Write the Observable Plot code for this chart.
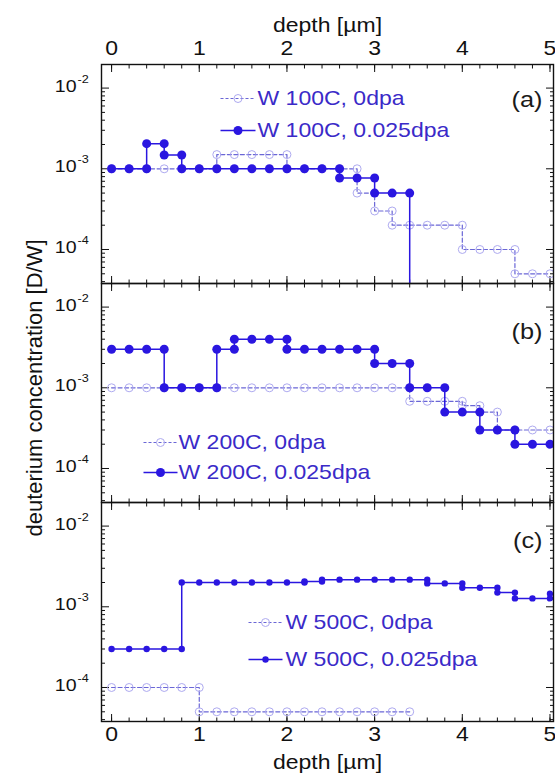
<!DOCTYPE html>
<html><head><meta charset="utf-8">
<script src="https://cdn.jsdelivr.net/npm/d3@7"></script>
<script src="https://cdn.jsdelivr.net/npm/@observablehq/plot@0.6"></script>
<style>
html,body{margin:0;padding:0;background:#fff;}
#chart{width:555px;height:775px;overflow:hidden;}
</style></head><body><div id="chart"></div>
<script>
// ---- tick labels / categories ----
const depthTicks = [0, 1, 2, 3, 4, 5];
const concTicks = [1e-4, 1e-3, 1e-2];
const concTickExp = ["-4", "-3", "-2"];
const panels = ["a", "b", "c"];
const panelLabels = ["(a)", "(b)", "(c)"];
const legendUn = ["W 100C, 0dpa", "W 200C, 0dpa", "W 500C, 0dpa"];
const legendIrr = ["W 100C, 0.025dpa", "W 200C, 0.025dpa", "W 500C, 0.025dpa"];
const xLabel = "depth [\u00b5m]";
const yLabel = "deuterium concentration [D/W]";

// ---- series (depth in µm, concentration in D/W) ----
const aUnDepth = [0,0.2,0.4,0.6,0.8,1.0,1.2, 1.2,1.4,1.6,1.8,2.0, 2.0,2.2,2.4,2.6,2.8, 2.8,3.0, 3.0,3.2, 3.2,3.4,3.6,3.8,4.0, 4.0,4.2,4.4,4.6, 4.6,4.8,5.0];
const aUnConc  = [1e-3,1e-3,1e-3,1e-3,1e-3,1e-3,1e-3, 1.5e-3,1.5e-3,1.5e-3,1.5e-3,1.5e-3, 1e-3,1e-3,1e-3,1e-3,1e-3, 5e-4,5e-4, 3e-4,3e-4, 2e-4,2e-4,2e-4,2e-4,2e-4, 1e-4,1e-4,1e-4,1e-4, 5e-5,5e-5,5e-5];
const aIrrDepth = [0,0.2,0.4, 0.4,0.6, 0.6,0.8, 0.8,1.0,1.2,1.4,1.6,1.8,2.0,2.2,2.4,2.6, 2.6,2.8,3.0, 3.0,3.2,3.4, 3.4];
const aIrrConc  = [1e-3,1e-3,1e-3, 2.05e-3,2.05e-3, 1.48e-3,1.48e-3, 1e-3,1e-3,1e-3,1e-3,1e-3,1e-3,1e-3,1e-3,1e-3,1e-3, 7.7e-4,7.7e-4,7.7e-4, 5e-4,5e-4,5e-4, 1e-6];

const bUnDepth = [0,0.2,0.4,0.6,0.8,1.0,1.2,1.4,1.6,1.8,2.0,2.2,2.4,2.6,2.8,3.0,3.2,3.4, 3.4,3.6,3.8,4.0, 4.0,4.2, 4.2,4.4, 4.4,4.6,4.8,5.0];
const bUnConc  = [1e-3,1e-3,1e-3,1e-3,1e-3,1e-3,1e-3,1e-3,1e-3,1e-3,1e-3,1e-3,1e-3,1e-3,1e-3,1e-3,1e-3,1e-3, 6.8e-4,6.8e-4,6.8e-4,6.8e-4, 6e-4,6e-4, 5e-4,5e-4, 3e-4,3e-4,3e-4,3e-4];
const bIrrDepth = [0,0.2,0.4,0.6, 0.6,0.8,1.0,1.2, 1.2,1.4, 1.4,1.6,1.8,2.0, 2.0,2.2,2.4,2.6,2.8,3.0, 3.0,3.2,3.4, 3.4,3.6,3.8, 3.8,4.0,4.2, 4.2,4.4,4.6, 4.6,4.8,5.0];
const bIrrConc  = [3e-3,3e-3,3e-3,3e-3, 1e-3,1e-3,1e-3,1e-3, 3e-3,3e-3, 4e-3,4e-3,4e-3,4e-3, 3e-3,3e-3,3e-3,3e-3,3e-3,3e-3, 2e-3,2e-3,2e-3, 1e-3,1e-3,1e-3, 5e-4,5e-4,5e-4, 3e-4,3e-4,3e-4, 2e-4,2e-4,2e-4];

const cUnDepth = [0,0.2,0.4,0.6,0.8,1.0, 1.0,1.2,1.4,1.6,1.8,2.0,2.2,2.4,2.6,2.8,3.0,3.2,3.4];
const cUnConc  = [1e-4,1e-4,1e-4,1e-4,1e-4,1e-4, 5e-5,5e-5,5e-5,5e-5,5e-5,5e-5,5e-5,5e-5,5e-5,5e-5,5e-5,5e-5,5e-5];
const cIrrDepth = [0,0.2,0.4,0.6,0.8, 0.8,1.0,1.2,1.4,1.6,1.8,2.0,2.2, 2.2,2.4, 2.4,2.6,2.8,3.0,3.2,3.4,3.6, 3.6,3.8,4.0, 4.0,4.2,4.4, 4.4,4.6, 4.6,4.8,5.0, 5.0];
const cIrrConc  = [3e-4,3e-4,3e-4,3e-4,3e-4, 2.0e-3,2.0e-3,2.0e-3,2.0e-3,2.0e-3,2.0e-3,2.0e-3,2.0e-3, 2.06e-3,2.06e-3, 2.17e-3,2.17e-3,2.17e-3,2.17e-3,2.17e-3,2.17e-3,2.17e-3, 1.95e-3,1.95e-3,1.95e-3, 1.72e-3,1.72e-3,1.72e-3, 1.5e-3,1.5e-3, 1.27e-3,1.27e-3,1.27e-3, 1.45e-3];

// ---- build tables ----
const rows = (panel, depth, conc) => depth.map((d, i) => ({panel, depth: d, conc: conc[i]}));
const unData = [...rows("a", aUnDepth, aUnConc), ...rows("b", bUnDepth, bUnConc), ...rows("c", cUnDepth, cUnConc)];
const irrData = [...rows("a", aIrrDepth, aIrrConc), ...rows("b", bIrrDepth, bIrrConc), ...rows("c", cIrrDepth, cIrrConc)];

// ---- styling / layout ----
const FONT = "'Liberation Sans', Arial, Helvetica, sans-serif";
const BLUE = "#2a16e0";
const DASH = "#6a66d6";
const OPEN = "#aeaaf0";
const LEGTXT = "#3a2ac8";
const STRETCH = 1.15;
const yDomain = [3.79e-5, 1.96e-2];
const xMinor = d3.range(0, 5.001, 0.2).map(v => +v.toFixed(1));
const yMinor = [];
for (const e of [-5, -4, -3, -2]) for (let k = 2; k <= 9; k++) { const v = k * 10 ** e; if (v > yDomain[0] && v < yDomain[1]) yMinor.push(v); }

// legend layout (pixels relative to each panel's top-left corner)
const legendLayout = {
  a: {x0: 119, x1: 154, tx: 156, y1: 34, y2: 66},
  b: {x0: 42,  x1: 76,  tx: 77,  y1: 159, y2: 189},
  c: {x0: 147, x1: 181, tx: 184, y1: 120, y2: 157}
};
const panelLabelDy = {a: 35, b: 48, c: 38};

const lineSym = (half) => ({draw(ctx) { ctx.moveTo(-half, 0); ctx.lineTo(half, 0); }});

const legendMarks = [];
panels.forEach((p, i) => {
  const L = legendLayout[p];
  const half = (L.x1 - L.x0) / 2, cx = (L.x0 + L.x1) / 2;
  legendMarks.push(
    Plot.dot([0], {fy: [p], frameAnchor: "top-left", dx: cx, dy: L.y1, symbol: lineSym(half), stroke: DASH, strokeWidth: 1.2, strokeDasharray: "3,2", fill: "none"}),
    Plot.dot([0], {fy: [p], frameAnchor: "top-left", dx: cx, dy: L.y1, r: 4, stroke: OPEN, fill: "none", strokeWidth: 1}),
    Plot.dot([0], {fy: [p], frameAnchor: "top-left", dx: cx, dy: L.y2, symbol: lineSym(half), stroke: BLUE, strokeWidth: 1.5, fill: "none"}),
    Plot.dot([0], {fy: [p], frameAnchor: "top-left", dx: cx, dy: L.y2, r: p === "c" ? 3.2 : 4.5, fill: BLUE}),
    Plot.text([legendUn[i]], {fy: [p], frameAnchor: "top-left", dx: L.tx, dy: L.y1, textAnchor: "start", lineAnchor: "middle", fontSize: 20, fill: LEGTXT}),
    Plot.text([legendIrr[i]], {fy: [p], frameAnchor: "top-left", dx: L.tx, dy: L.y2, textAnchor: "start", lineAnchor: "middle", fontSize: 20, fill: LEGTXT}),
    Plot.text([panelLabels[i]], {fy: [p], frameAnchor: "top-right", dx: -11, dy: panelLabelDy[p], textAnchor: "end", lineAnchor: "middle", fontSize: 22, fill: "#1a1a1a"})
  );
});

const tickOpts = {facetAnchor: null, fill: "none", stroke: "#111", label: null, strokeWidth: 1};

const chart = Plot.plot({
  width: 555,
  height: 775,
  marginTop: 63,
  marginBottom: 54,
  marginLeft: 101,
  marginRight: 2,
  style: {fontFamily: FONT, background: "#fff", color: "#111"},
  x: {domain: [-0.115, 5.04]},
  y: {type: "log", domain: yDomain},
  fy: {domain: panels, padding: 0, axis: null},
  marks: [
    // inward ticks on every panel
    Plot.axisX(xMinor, {anchor: "bottom", tickSize: -3.5, ...tickOpts}),
    Plot.axisX(depthTicks, {anchor: "bottom", tickSize: -7, ...tickOpts}),
    Plot.axisX(xMinor, {anchor: "top", tickSize: -3.5, ...tickOpts}),
    Plot.axisX(depthTicks, {anchor: "top", tickSize: -7, ...tickOpts}),
    Plot.axisY(yMinor, {anchor: "left", tickSize: -4, ...tickOpts}),
    Plot.axisY(concTicks, {anchor: "left", tickSize: -8, ...tickOpts}),
    Plot.axisY(yMinor, {anchor: "right", tickSize: -4, ...tickOpts}),
    Plot.axisY(concTicks, {anchor: "right", tickSize: -8, ...tickOpts}),
    // tick labels
    Plot.axisX(depthTicks, {anchor: "top", tickSize: 0, tickPadding: 10, fontSize: 20, label: null, fill: "#111", tickFormat: d => String(d)}),
    Plot.axisX(depthTicks, {anchor: "bottom", tickSize: 0, tickPadding: 5, fontSize: 20, label: null, fill: "#111", tickFormat: d => String(d)}),
    Plot.text(concTicks, {ariaLabel: "conc-tick-label", y: d => d, frameAnchor: "left", text: () => "10", textAnchor: "end", dx: -25, dy: -2, fontSize: 17, fill: "#111"}),
    Plot.text(concTicks, {ariaLabel: "conc-tick-label", y: d => d, frameAnchor: "left", text: (d, i) => concTickExp[i], textAnchor: "start", dx: -24, dy: -9, fontSize: 11, fill: "#111"}),
    // axis titles
    Plot.text([xLabel], {fy: ["a"], frameAnchor: "top", dy: -39, textAnchor: "middle", lineAnchor: "middle", fontSize: 20, fill: "#111"}),
    Plot.text([xLabel], {fy: ["c"], frameAnchor: "bottom", dy: 41, textAnchor: "middle", lineAnchor: "middle", fontSize: 20, fill: "#111"}),
    Plot.text([yLabel], {fy: ["b"], frameAnchor: "left", dx: -67, dy: -5, rotate: -90, textAnchor: "middle", lineAnchor: "middle", fontSize: 22, fill: "#111"}),
    // data
    Plot.line(unData, {x: "depth", y: "conc", fy: "panel", stroke: DASH, strokeWidth: 1.2, strokeDasharray: "4,2.5", clip: true}),
    Plot.dot(unData, {x: "depth", y: "conc", fy: "panel", r: 4, stroke: OPEN, fill: "none", strokeWidth: 1, clip: true}),
    Plot.line(irrData, {x: "depth", y: "conc", fy: "panel", stroke: BLUE, strokeWidth: 1.5, clip: true}),
    Plot.dot(irrData.filter(d => d.panel !== "c" && d.conc > 1e-5), {x: "depth", y: "conc", fy: "panel", r: 4.5, fill: BLUE, clip: true}),
    Plot.dot(irrData.filter(d => d.panel === "c"), {x: "depth", y: "conc", fy: "panel", r: 3.2, fill: BLUE, clip: true}),
    ...legendMarks,
    Plot.frame({stroke: "#111", strokeWidth: 1.4})
  ]
});
document.getElementById("chart").appendChild(chart);

// the reference lettering is horizontally wide: stretch non-rotated text about its anchor
d3.select(chart).selectAll("text").each(function () {
  const g = this.closest("g[aria-label]");
  if (g && g.getAttribute("aria-label") === "conc-tick-label") return;
  let t = this.getAttribute("transform") || "";
  if (t.includes("rotate")) return;
  if (!t.includes("translate")) {
    const x = +this.getAttribute("x") || 0, y = +this.getAttribute("y") || 0;
    this.removeAttribute("x"); this.removeAttribute("y");
    t = `translate(${x},${y})`;
  }
  this.setAttribute("transform", `${t} scale(${STRETCH},1)`);
});
</script>
</body></html>
